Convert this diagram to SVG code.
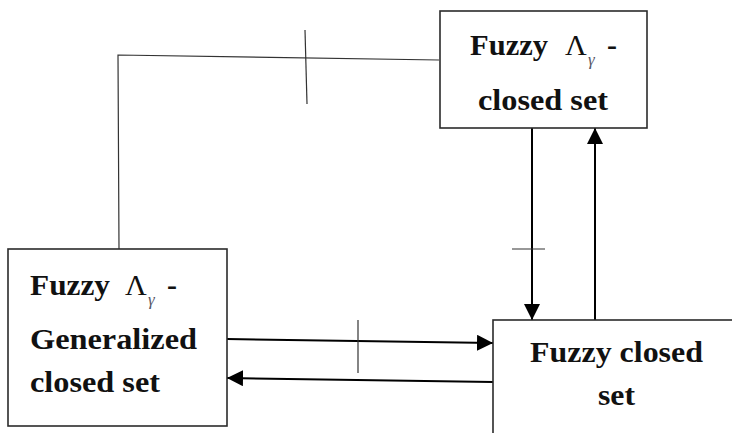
<svg xmlns="http://www.w3.org/2000/svg" width="732" height="433" viewBox="0 0 732 433">
<style>
.box{fill:#fff;stroke:#2b2b2b;stroke-width:1.6}
.t{font-family:"Liberation Serif","Times New Roman",serif;font-weight:bold;font-size:30px;fill:#111}
.lam{font-family:"Liberation Serif","Times New Roman",serif;font-weight:normal;font-size:30px;fill:#111}
.gam{font-family:"Liberation Serif","Times New Roman",serif;font-style:italic;font-size:17px;fill:#556}
.arr{stroke:#000;stroke-width:2;fill:none}
.thin{stroke:#333;stroke-width:1.2;fill:none}
</style>
<defs>
<marker id="ah" viewBox="0 0 16 16" refX="16" refY="8" markerWidth="16" markerHeight="16" markerUnits="userSpaceOnUse" orient="auto">
<path d="M0,0 L16,8 L0,16 Z" fill="#000"/>
</marker>
</defs>
<rect width="732" height="433" fill="#fff"/>
<g id="connectors">
<polyline class="thin" points="119,249 118,55 439,60"/>
<line class="thin" x1="305" y1="30" x2="307" y2="104"/>
<line class="arr" x1="532" y1="128" x2="532" y2="320" marker-end="url(#ah)"/>
<line class="thin" x1="512" y1="249" x2="545" y2="249"/>
<line class="arr" x1="595" y1="320" x2="595" y2="128" marker-end="url(#ah)"/>
<line class="arr" x1="227" y1="339" x2="493" y2="343" marker-end="url(#ah)"/>
<line class="thin" x1="358" y1="320" x2="358" y2="373"/>
<line class="arr" x1="493" y1="382" x2="227" y2="378" marker-end="url(#ah)"/>
</g>
<g id="node-lambda-closed">
<rect class="box" x="440" y="11" width="207" height="117"/>
<text class="t" x="470" y="55" textLength="78" lengthAdjust="spacingAndGlyphs">Fuzzy</text>
<text class="lam" x="565" y="55">Λ</text>
<text class="gam" x="588" y="65">γ</text>
<text class="t" x="607" y="55">-</text>
<text class="t" x="478" y="110" textLength="130" lengthAdjust="spacingAndGlyphs">closed set</text>
</g>
<g id="node-lambda-generalized">
<rect class="box" x="8" y="249" width="219" height="177"/>
<text class="t" x="30" y="295" textLength="80" lengthAdjust="spacingAndGlyphs">Fuzzy</text>
<text class="lam" x="125" y="295">Λ</text>
<text class="gam" x="148" y="305">γ</text>
<text class="t" x="167" y="295">-</text>
<text class="t" x="30" y="349" textLength="167" lengthAdjust="spacingAndGlyphs">Generalized</text>
<text class="t" x="30" y="392" textLength="130" lengthAdjust="spacingAndGlyphs">closed set</text>
</g>
<g id="node-fuzzy-closed">
<rect class="box" x="493" y="320" width="250" height="130"/>
<text class="t" x="530" y="362" textLength="173" lengthAdjust="spacingAndGlyphs">Fuzzy closed</text>
<text class="t" x="598" y="405" textLength="37" lengthAdjust="spacingAndGlyphs">set</text>
</g>
</svg>
